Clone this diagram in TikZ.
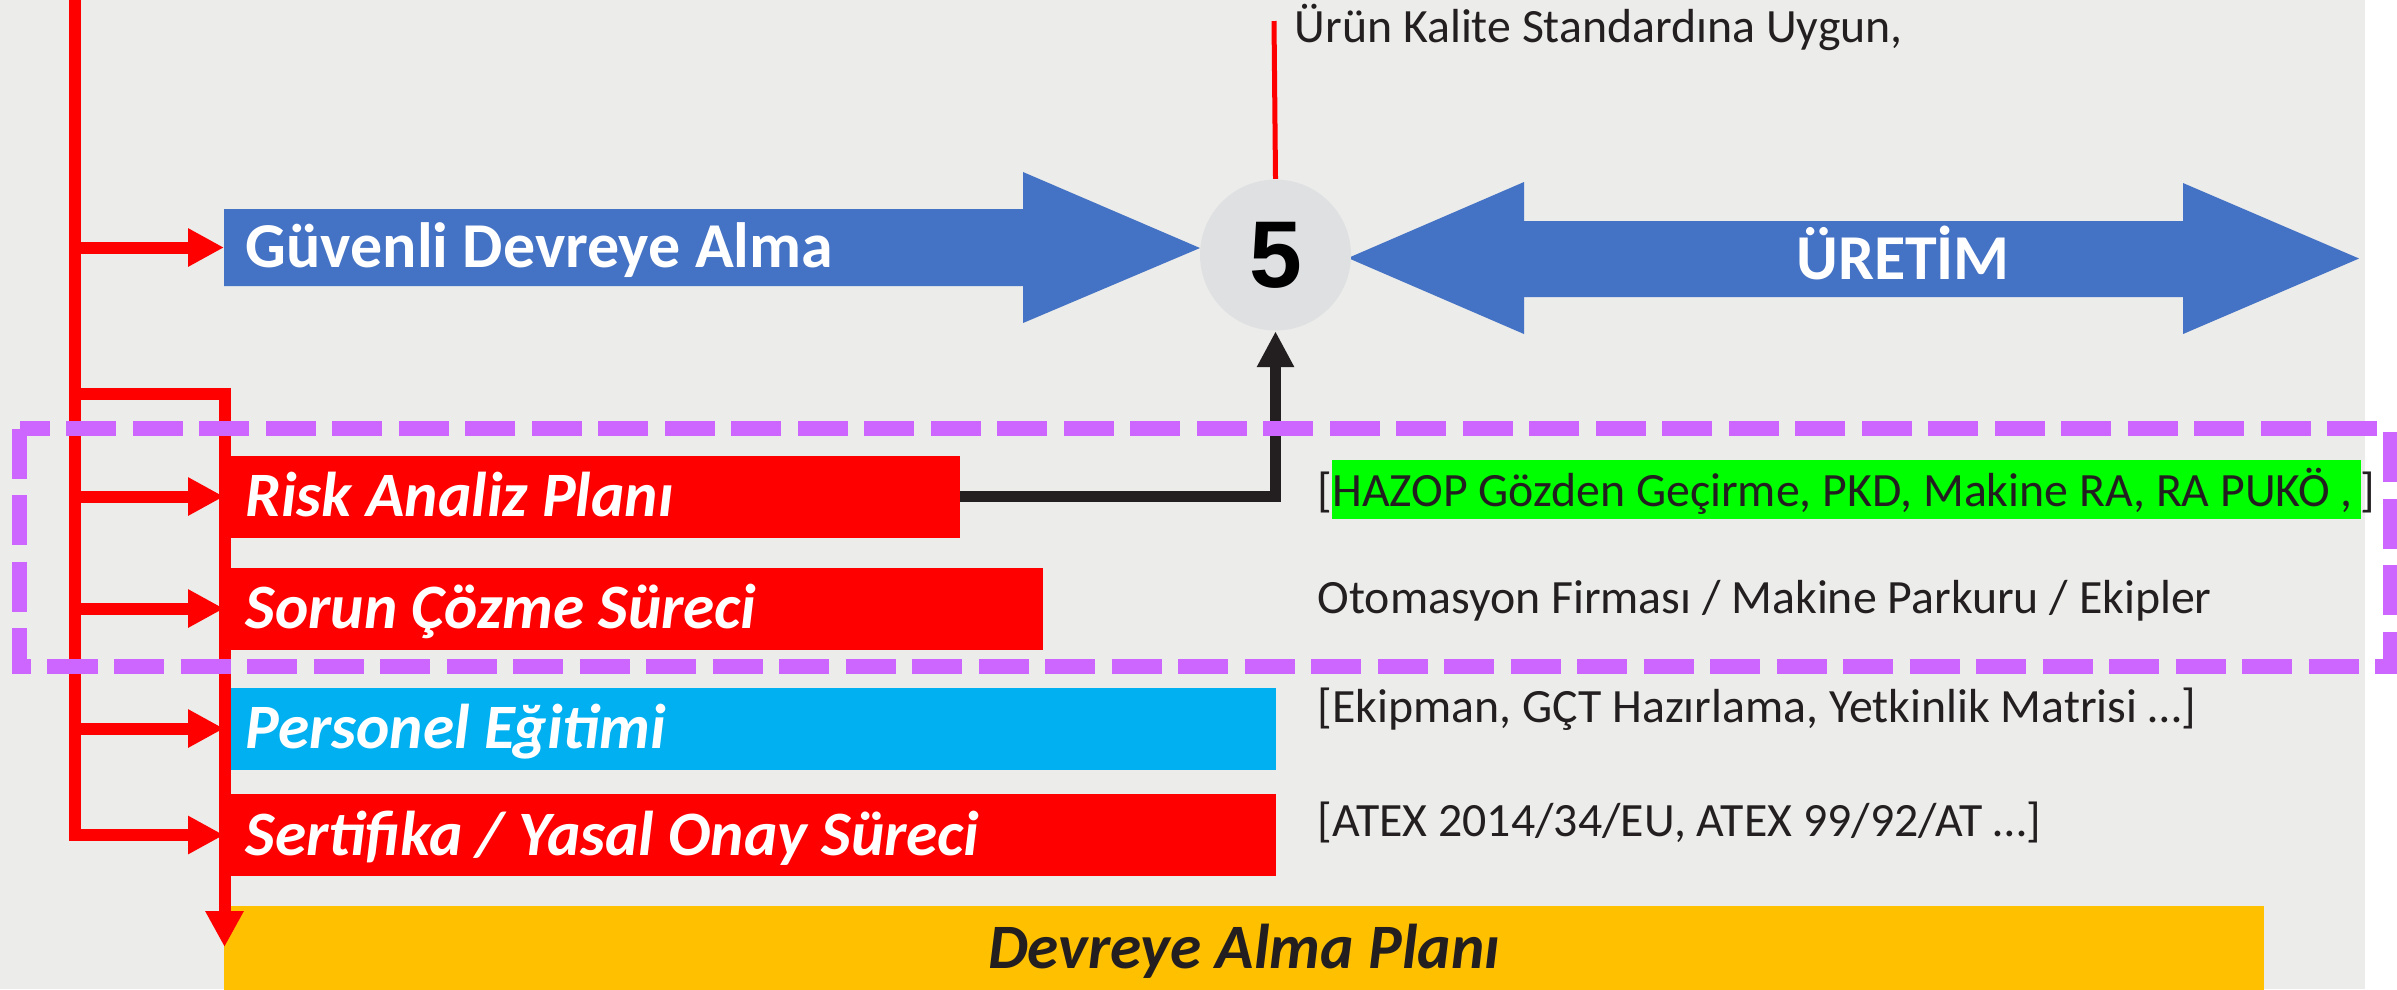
\documentclass[tikz,border=0pt]{standalone}
\usepackage{fontspec}
\setmainfont{Carlito}
\newfontfamily\rakamfont{Liberation Sans}
\usetikzlibrary{arrows.meta}

\definecolor{zemin}{HTML}{ECECEA}
\definecolor{mavi}{HTML}{4472C4}
\definecolor{kirmizi}{HTML}{FF0000}
\definecolor{turkuaz}{HTML}{00B0F0}
\definecolor{sari}{HTML}{FFC000}
\definecolor{yesil}{HTML}{00FF00}
\definecolor{mor}{HTML}{CC66FF}
\definecolor{daire}{HTML}{DFE0E2}
\definecolor{yazi}{HTML}{231F20}

\begin{document}
\begin{tikzpicture}[
    kutu/.style = {anchor = west, minimum height = 0.82cm, inner xsep = 0.21cm, inner ysep = 0pt,
      align = flush left, text = white, text height = 0.40cm, text depth = 0pt,
      font = \fontsize{18}{20}\selectfont\bfseries\itshape},
    baslik/.style = {inner sep = 0pt, text = white, text height = 0.40cm, text depth = 0pt,
      font = \fontsize{18.2}{20}\selectfont\bfseries},
    hat/.style = {draw = kirmizi, line width = 0.12cm},
    okucu/.style = {-{Triangle[length = 0.36cm, width = 0.36cm]}},
    aciklama/.style = {anchor = base west, inner sep = 0pt, text = yazi,
      font = \fontsize{13.6}{16}\selectfont}
  ]
  \useasboundingbox (0,0) rectangle (23.97,-9.89);
  \clip (0,0) rectangle (23.97,-9.89);
  \fill[white] (0,0) rectangle (23.97,-9.89);
  \fill[zemin] (0,0) rectangle (23.65,-9.89);

  \fill[mavi] (2.24,-2.09) -- (10.23,-2.09) -- (10.23,-1.72) -- (12.00,-2.48)
    -- (10.23,-3.23) -- (10.23,-2.86) -- (2.24,-2.86) -- cycle;
  \fill[mavi] (13.48,-2.58) -- (15.24,-1.82) -- (15.24,-2.21) -- (21.83,-2.21)
    -- (21.83,-1.83) -- (23.59,-2.585) -- (21.83,-3.34) -- (21.83,-2.97)
    -- (15.24,-2.97) -- (15.24,-3.34) -- cycle;
  \node[baslik, anchor = west, inner xsep = 0.21cm] (guv) at (2.24,-2.475) {Güvenli Devreye Alma};
  \node[baslik] (uretim) at (19.03,-2.595) {ÜRETİM};

  \node[kutu, fill = kirmizi, text width = 6.93cm] (risk) at (2.24,-4.965) {Risk Analiz Planı};
  \node[kutu, fill = kirmizi, text width = 7.76cm] (sorun) at (2.24,-6.085) {Sorun Çözme Süreci};
  \node[kutu, fill = turkuaz, text width = 10.09cm] (egitim) at (2.24,-7.285) {Personel Eğitimi};
  \node[kutu, fill = kirmizi, text width = 10.09cm] (sert) at (2.24,-8.35) {Sertifika / Yasal Onay Süreci};
  \node[kutu, fill = sari, anchor = center, align = center, text = yazi,
    minimum width = 20.40cm, minimum height = 0.84cm] (plan) at (12.44,-9.48) {Devreye Alma Planı};

  \coordinate (govde) at (0.75,0.2);
  \coordinate (ayrim) at (0.75,-3.935);
  \coordinate (inis) at (2.245,-9.47);
  \draw[hat, okucu] (govde) |- (sert.west);
  \foreach \kutuadi in {guv,risk,sorun,egitim}
    \draw[hat, okucu] (govde |- \kutuadi.west) -- (\kutuadi.west);
  \draw[hat, okucu] (ayrim) -| (inis);

  \node[circle, fill = daire, minimum size = 1.51cm, inner sep = 0pt, text = black,
    font = \rakamfont\fontsize{27}{30}\selectfont\bfseries] (bes) at (12.755,-2.55) {5};
  \coordinate (kaliteucu) at (12.74,-0.21);
  \draw[kirmizi, line width = 0.05cm] (bes.north) -- (kaliteucu);
  \draw[yazi, line width = 0.11cm, -{Triangle[length = 0.36cm, width = 0.35cm]}] (risk.east) -| (bes.south);

  \node[aciklama] (kalite) at (12.94,-0.42) {Ürün Kalite Standardına Uygun,};
  \node[aciklama] (hazop) at (13.17,-5.06) {[{\setlength{\fboxsep}{0pt}\colorbox{yesil}{\rule[-0.13cm]{0pt}{0.59cm}HAZOP Gözden Geçirme, PKD, Makine RA, RA PUKÖ ,\,}}]};
  \node[aciklama] (otomasyon) at (13.17,-6.13) {Otomasyon Firması / Makine Parkuru / Ekipler};
  \node[aciklama] (ekipman) at (13.17,-7.22) {[Ekipman, GÇT Hazırlama, Yetkinlik Matrisi …]};
  \node[aciklama] (atex) at (13.17,-8.36) {[ATEX 2014/34/EU, ATEX 99/92/AT …]};

  \draw[mor, line width = 0.15cm, dash pattern = on 0.5cm off 0.165cm] (0.195,-4.285) rectangle (23.90,-6.665);
\end{tikzpicture}
\end{document}
